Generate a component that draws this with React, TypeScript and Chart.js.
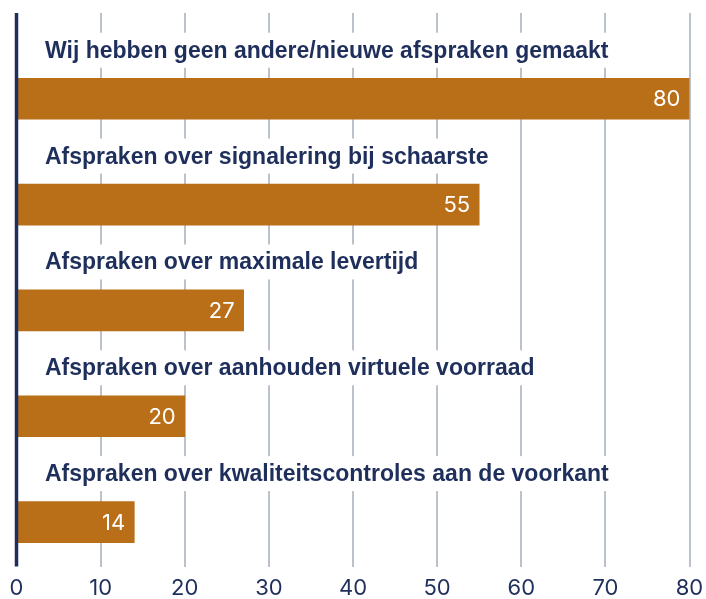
import React, { useEffect, useRef } from 'react';
import { Chart, registerables } from 'chart.js';

Chart.register(...registerables);

const categories = [
  'Wij hebben geen andere/nieuwe afspraken gemaakt',
  'Afspraken over signalering bij schaarste',
  'Afspraken over maximale levertijd',
  'Afspraken over aanhouden virtuele voorraad',
  'Afspraken over kwaliteitscontroles aan de voorkant',
];
const values = [80, 55, 27, 20, 14];
const xMin = 0;
const xMax = 80;
const xStep = 10;

const NAVY = '#1f2f5c';
const BAR = '#b96e18';
const GRID = '#bcc2ca';

export default function App() {
  const ref = useRef<HTMLCanvasElement>(null);

  useEffect(() => {
    document.body.style.margin = '0';
    const canvas = ref.current;
    if (!canvas) return;

    const overlay = {
      id: 'overlay',
      afterDatasetsDraw(chart: any) {
        const ctx = chart.ctx;
        const ys = chart.scales.y;
        const xs = chart.scales.x;
        const area = chart.chartArea;
        ctx.save();
        // zero axis line
        const x0 = xs.getPixelForValue(0);
        ctx.strokeStyle = NAVY;
        ctx.lineWidth = 3.5;
        ctx.beginPath();
        ctx.moveTo(x0, area.top);
        ctx.lineTo(x0, area.bottom);
        ctx.stroke();

        // category labels with white backing
        ctx.font = 'bold 23px "Liberation Sans", Arial, sans-serif';
        ctx.textAlign = 'left';
        ctx.textBaseline = 'alphabetic';
        categories.forEach((c, i) => {
          const cy = ys.getPixelForValue(i);
          const base = cy - 41;
          const w = ctx.measureText(c).width;
          ctx.fillStyle = '#ffffff';
          ctx.fillRect(40, base - 25, w + 10, 35);
          ctx.fillStyle = NAVY;
          ctx.fillText(c, 45, base);
        });

        // value labels
        const meta = chart.getDatasetMeta(0);
        ctx.font = '400 22px Inter, "Open Sans", sans-serif';
        ctx.textAlign = 'right';
        ctx.textBaseline = 'middle';
        ctx.fillStyle = '#ffffff';
        meta.data.forEach((bar: any, i: number) => {
          ctx.fillText(String(values[i]), bar.x - 9, bar.y + 1);
        });
        ctx.restore();
      },
    };

    const chart = new Chart(canvas, {
      type: 'bar',
      data: {
        datasets: [
          {
            data: values.map((v, i) => ({ x: v, y: i })),
            backgroundColor: BAR,
            borderWidth: 0,
            barThickness: 41,
          },
        ],
      },
      options: {
        indexAxis: 'y',
        responsive: false,
        animation: false,
        layout: { padding: { left: 16.5, right: 16.5, top: 13, bottom: -12 } },
        plugins: { legend: { display: false }, tooltip: { enabled: false } },
        scales: {
          x: {
            type: 'linear',
            min: xMin,
            max: xMax,
            afterFit: (scale: any) => {
              scale.paddingLeft = 0;
              scale.paddingRight = 0;
            },
            ticks: {
              stepSize: xStep,
              color: NAVY,
              padding: 9,
              font: { family: 'Inter, "Open Sans", sans-serif', size: 22, weight: '400' },
            },
            grid: {
              drawTicks: false,
              lineWidth: 2,
              color: (ctx: any) => (ctx.tick && ctx.tick.value === 0 ? 'rgba(0,0,0,0)' : GRID),
            },
            border: { display: false },
          },
          y: {
            type: 'linear',
            min: -0.81,
            max: 4.42,
            reverse: true,
            offset: false,
            display: false,
          },
        },
      } as any,
      plugins: [overlay],
    });

    return () => chart.destroy();
  }, []);

  return (
    <div style={{ width: 706, height: 599 }}>
      <canvas ref={ref} width={706} height={599} style={{ width: 706, height: 599 }} />
    </div>
  );
}
